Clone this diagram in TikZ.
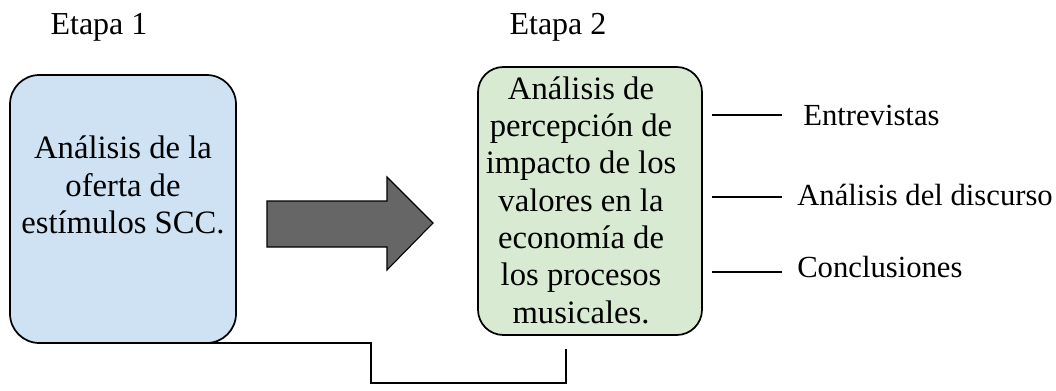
\documentclass[tikz,border=0pt]{standalone}
\usepackage{fontspec}
\setmainfont{Liberation Serif}
\usepackage{tikz}
\usepackage{xcolor}
\usetikzlibrary{arrows.meta}

\definecolor{azulclaro}{HTML}{CFE2F3}
\definecolor{verdeclaro}{HTML}{D9EAD3}
\definecolor{grisflecha}{HTML}{666666}

\begin{document}
\begin{tikzpicture}[x=0.75pt,y=-0.75pt,
    caja/.style={draw=black,line width=1.3pt,inner sep=0pt,outer sep=0pt},
    texto/.style={align=center,font=\fontsize{24.5}{28}\selectfont,inner sep=0pt},
    etiqueta/.style={font=\fontsize{23}{27}\selectfont,inner sep=0pt,anchor=base west},
    linea/.style={draw=black,line width=0.8pt}]
            \useasboundingbox (0,0) rectangle (1056,390);
            % etapas
            \node[anchor=base,font=\fontsize{24}{28}\selectfont,inner sep=0pt] (et1) at (99,34) {Etapa 1};
            \node[anchor=base,font=\fontsize{24}{28}\selectfont,inner sep=0pt] (et2) at (558,34) {Etapa 2};
            % cajas
            \node[caja,fill=azulclaro,rounded corners=22pt,minimum width=169.5pt,minimum height=201pt] (e1) at (123,209) {};
            \node[caja,fill=verdeclaro,rounded corners=19pt,minimum width=168pt,minimum height=201pt] (e2) at (590,201) {};
            \node[texto] (t1) at (123,185) {Análisis de la\\oferta de\\estímulos SCC.};
            \node[texto] (t2) at (581,200) {Análisis de\\percepción de\\impacto de los\\valores en la\\economía de\\los procesos\\musicales.};
            % flecha gruesa
            \draw[line width=0.8pt,fill=grisflecha] (267,201) -- (387,201) -- (387,177) -- (433,223)
                -- (387,270) -- (387,247) -- (267,247) -- cycle;
            % metodos
            \node[etiqueta] (m1) at (803,125) {Entrevistas};
            \node[etiqueta] (m2) at (797,205) {Análisis del discurso};
            \node[etiqueta] (m3) at (797,277) {Conclusiones};
            \coordinate (q1) at (782,115);
            \coordinate (q2) at (782,197);
            \coordinate (q3) at (782,272);
            \draw[linea] ([xshift=7.5pt]e2.east |- q1) -- (q1);
            \draw[linea] ([xshift=7.5pt]e2.east |- q2) -- (q2);
            \draw[linea] ([xshift=7.5pt]e2.east |- q3) -- (q3);
            % union inferior
            \coordinate (c1) at (371,343);
            \coordinate (c2) at (371,383);
            \coordinate (c3) at (566,383);
            \coordinate (c4) at (566,349);
            \draw[linea] (e1.south) -- (c1) -- (c2) -- (c3) -- (c4);
        \end{tikzpicture}
\end{document}
